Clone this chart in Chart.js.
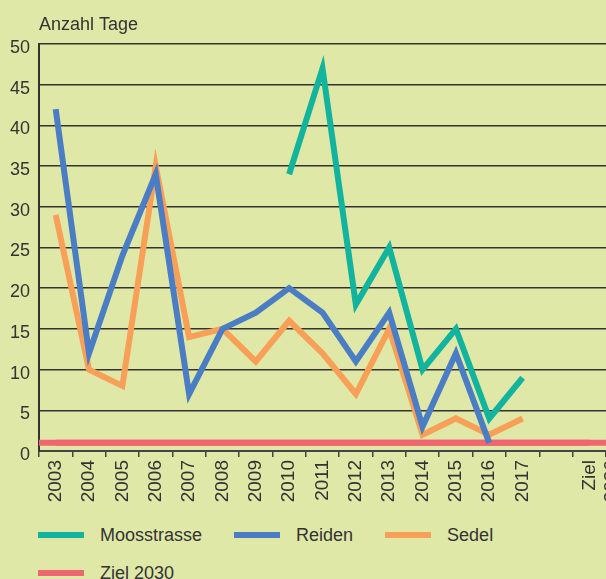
<!DOCTYPE html>
<html>
<head>
<meta charset="utf-8">
<title>Anzahl Tage</title>
<script src="https://cdn.jsdelivr.net/npm/chart.js@4.4.1/dist/chart.umd.min.js"></script>
<style>
  html, body { margin: 0; padding: 0; background: #dfe8a7; overflow: hidden; }
  #wrap { position: relative; width: 606px; height: 579px; }
  #box { position: absolute; left: 0; top: 0; width: 606px; height: 511px; }
  #legend {
    position: absolute; left: 38px; top: 516px; width: 520px;
    display: flex; flex-wrap: wrap;
    font: 18px "Liberation Sans", Arial, sans-serif; color: #333;
  }
  .item { display: flex; align-items: center; height: 38px; margin-right: 32px; }
  .swatch { width: 46px; height: 6px; margin-right: 16px; }
</style>
</head>
<body>
<div id="wrap">
  <div id="box"><canvas id="chart"></canvas></div>
  <div id="legend"></div>
</div>
<script>
const yTitle = 'Anzahl Tage';
const years = ['2003', '2004', '2005', '2006', '2007', '2008', '2009', '2010',
  '2011', '2012', '2013', '2014', '2015', '2016', '2017', '', ['Ziel', '2030']];

const moosstrasse = [null, null, null, null, null, null, null, 34, 47, 18, 25, 10, 15, 4, 9, null, null];
const reiden = [42, 12, 24, 34, 7, 15, 17, 20, 17, 11, 17, 3, 12, 1, null, null, null];
const sedel = [29, 10, 8, 35, 14, 15, 11, 16, 12, 7, 15, 2, 4, 2, 4, null, null];
const ziel2030 = [1, 1, 1, 1, 1, 1, 1, 1, 1, 1, 1, 1, 1, 1, 1, 1, 1];

const colors = {
  moos: '#12b49d',
  reiden: '#4a7dc4',
  sedel: '#f89f58',
  ziel: '#ef6570'
};
const font = '"Liberation Sans", Arial, sans-serif';

// y axis title, placed over the left edge of the plot
const titlePlugin = {
  id: 'yTitle',
  afterDraw(chart) {
    const { ctx, chartArea } = chart;
    ctx.save();
    ctx.font = '18px ' + font;
    ctx.fillStyle = '#333';
    ctx.textBaseline = 'alphabetic';
    ctx.fillText(yTitle, chartArea.left, 30);
    ctx.restore();
  }
};

// target line runs across the whole plot width
const targetPlugin = {
  id: 'targetLine',
  beforeDatasetsDraw(chart) {
    const { ctx, chartArea, scales } = chart;
    const y = scales.y.getPixelForValue(ziel2030[0]);
    ctx.save();
    ctx.strokeStyle = colors.ziel;
    ctx.lineWidth = 6;
    ctx.beginPath();
    ctx.moveTo(chartArea.left, y);
    ctx.lineTo(chartArea.right, y);
    ctx.stroke();
    ctx.restore();
  }
};

const chart = new Chart(document.getElementById('chart'), {
  type: 'line',
  data: {
    labels: years,
    datasets: [
      { label: 'Moosstrasse', data: moosstrasse, borderColor: colors.moos, backgroundColor: colors.moos },
      { label: 'Reiden', data: reiden, borderColor: colors.reiden, backgroundColor: colors.reiden },
      { label: 'Sedel', data: sedel, borderColor: colors.sedel, backgroundColor: colors.sedel },
      { label: 'Ziel 2030', data: ziel2030, borderColor: colors.ziel, backgroundColor: colors.ziel }
    ]
  },
  options: {
    responsive: true,
    maintainAspectRatio: false,
    animation: false,
    layout: { padding: { top: 44, left: 0, right: 0, bottom: 0 } },
    elements: {
      line: { borderWidth: 6, tension: 0, borderJoinStyle: 'miter', borderCapStyle: 'butt' },
      point: { radius: 0, hoverRadius: 0 }
    },
    scales: {
      x: {
        type: 'category',
        offset: true,
        grid: { offset: true, drawOnChartArea: false, drawTicks: true, tickLength: 6, color: '#444', lineWidth: 1.5 },
        border: { color: '#444', width: 2 },
        ticks: { minRotation: 90, maxRotation: 90, autoSkip: false, padding: 3, color: '#333', font: { family: font, size: 19 } },
        afterFit(s) { s.height = 60; s.paddingLeft = 0; s.paddingRight = 0; }
      },
      y: {
        min: 0,
        max: 50,
        grid: { color: '#333', lineWidth: 1.5, drawTicks: false },
        border: { color: '#333', width: 2 },
        ticks: { stepSize: 5, padding: 9, labelOffset: 4, color: '#333', font: { family: font, size: 18 } },
        afterFit(s) { s.width = 39; }
      }
    },
    plugins: {
      legend: { display: false },
      tooltip: { enabled: false }
    }
  },
  plugins: [targetPlugin, titlePlugin]
});

// html legend, rows wrap like the original
const legend = document.getElementById('legend');
chart.data.datasets.forEach(ds => {
  const item = document.createElement('div');
  item.className = 'item';
  const sw = document.createElement('span');
  sw.className = 'swatch';
  sw.style.background = ds.borderColor;
  const txt = document.createElement('span');
  txt.textContent = ds.label;
  item.appendChild(sw);
  item.appendChild(txt);
  legend.appendChild(item);
});
</script>
</body>
</html>
